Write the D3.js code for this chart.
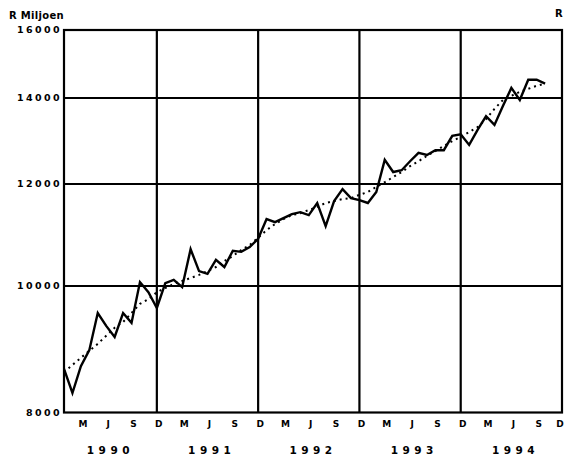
<!DOCTYPE html>
<html><head><meta charset="utf-8">
<script src="https://cdn.jsdelivr.net/npm/d3@7"></script>
<style>
html,body{margin:0;padding:0;background:#fff;}
svg{display:block;}
text{font-family:"DejaVu Sans","Liberation Sans",Arial,sans-serif;font-weight:bold;fill:#000;}
</style></head>
<body>
<svg id="c" width="565" height="456"></svg>
<script>
// Monthly data, Jan 1990 onwards (R Miljoen)
const months = ["1990-01","1990-02","1990-03","1990-04","1990-05","1990-06","1990-07","1990-08","1990-09","1990-10","1990-11","1990-12",
"1991-01","1991-02","1991-03","1991-04","1991-05","1991-06","1991-07","1991-08","1991-09","1991-10","1991-11","1991-12",
"1992-01","1992-02","1992-03","1992-04","1992-05","1992-06","1992-07","1992-08","1992-09","1992-10","1992-11","1992-12",
"1993-01","1993-02","1993-03","1993-04","1993-05","1993-06","1993-07","1993-08","1993-09","1993-10","1993-11","1993-12",
"1994-01","1994-02","1994-03","1994-04","1994-05","1994-06","1994-07","1994-08","1994-09","1994-10"];
const actual = [8640,8280,8680,8930,9535,9320,9140,9535,9370,10070,9890,9620,
10050,10110,9980,10680,10270,10220,10480,10345,10650,10630,10720,10880,
11270,11210,11290,11370,11410,11350,11600,11130,11640,11890,11700,11660,
11600,11830,12530,12260,12300,12500,12690,12640,12750,12750,13080,13120,
12870,13220,13550,13340,13800,14280,13950,14510,14510,14400];
const trend = [8590,8700,8810,8920,9030,9160,9290,9385,9535,9690,9770,9890,
9965,10036,10090,10144,10200,10270,10345,10457,10550,10665,10760,10900,
11050,11170,11270,11350,11390,11455,11520,11600,11640,11680,11700,11770,
11830,11940,12040,12150,12260,12390,12500,12620,12730,12850,12960,13055,
13170,13290,13480,13730,13950,14060,14170,14255,14340,14400];
const yTicks = [8000,10000,12000,14000,16000];
const yGrid = [10000,12000,14000];
const years = [1990,1991,1992,1993,1994];
const monthTickLabels = ["M","J","S","D"];
const monthTickIdx = [2,5,8,11];

const svg = d3.select("#c");
const L=64, R=562, T=30, B=412.5;
const x = d3.scaleLinear().domain([0,59]).range([L,R]);
const y = d3.scaleLog().domain([8000,10000,12000,14000,16000]).range([B,286,184,98,T]);

// gridlines
svg.append("g").selectAll("line").data(yGrid).join("line")
  .attr("x1",L).attr("x2",R).attr("y1",d=>y(d)).attr("y2",d=>y(d))
  .attr("stroke","#000").attr("stroke-width",2.2);
svg.append("g").selectAll("line").data(years.slice(0,4)).join("line")
  .attr("x1",(d,i)=>x(i*12+11)).attr("x2",(d,i)=>x(i*12+11))
  .attr("y1",T).attr("y2",B).attr("stroke","#000").attr("stroke-width",2.2);
// frame
svg.append("rect").attr("x",L).attr("y",T).attr("width",R-L).attr("height",B-T)
  .attr("fill","none").attr("stroke","#000").attr("stroke-width",2.2);

// y axis labels
svg.append("g").selectAll("text").data(yTicks).join("text")
  .attr("x",L-2).attr("y",d=>y(d)).attr("dy","0.35em").attr("text-anchor","end")
  .attr("font-size",9.5).attr("letter-spacing",2.4).text(d=>d);
svg.append("text").attr("x",9).attr("y",19).attr("font-size",10).attr("letter-spacing",0.3).text("R Miljoen");
svg.append("text").attr("x",555).attr("y",17).attr("font-size",10).text("R");

// x month labels
const mt=[];
years.forEach((yr,i)=>monthTickIdx.forEach((m,j)=>mt.push({i:i*12+m,l:monthTickLabels[j]})));
svg.append("g").selectAll("text").data(mt).join("text")
  .attr("x",d=>Math.min(x(d.i)+2,560)).attr("y",427).attr("text-anchor","middle")
  .attr("font-size",9).text(d=>d.l);
svg.append("g").selectAll("text").data(years).join("text")
  .attr("x",(d,i)=>x(i*12+5.5)).attr("y",454).attr("text-anchor","middle")
  .attr("font-size",10.5).attr("letter-spacing",4.5).text(d=>d);

// lines
const line = d3.line().x((d,i)=>x(i)).y(d=>y(d));
svg.append("path").datum(trend).attr("d",line).attr("fill","none")
  .attr("stroke","#000").attr("stroke-width",2).attr("stroke-dasharray","2,4");
svg.append("path").datum(actual).attr("d",line).attr("fill","none")
  .attr("stroke","#000").attr("stroke-width",2.4).attr("stroke-linejoin","miter");
</script>
</body></html>
